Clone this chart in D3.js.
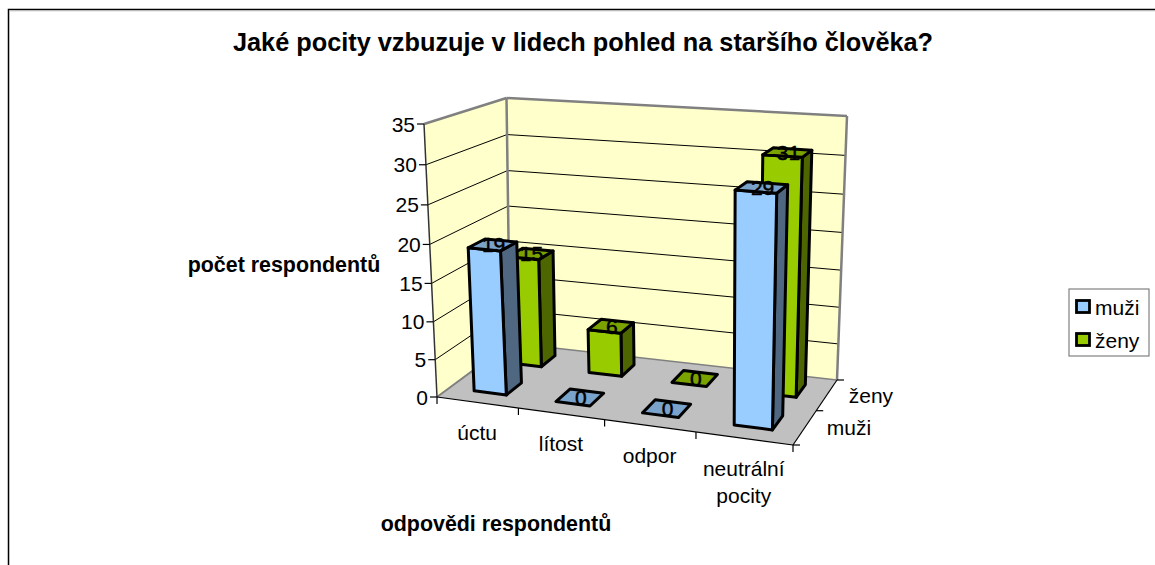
<!DOCTYPE html>
<html><head><meta charset="utf-8">
<script src="https://cdn.jsdelivr.net/npm/d3@7"></script>
<style>html,body{margin:0;padding:0;background:#fff}svg{display:block}text{font-family:"Liberation Sans",Arial,sans-serif;fill:#000}</style>
</head><body><svg id="c" width="1155" height="565"></svg>
<script>
const categories=["úctu","lítost","odpor","neutrální pocity"];
const seriesNames=["muži","ženy"];
const muzi=[19,0,0,29];
const zeny=[15,6,0,31];
const valueTicks=[0,5,10,15,20,25,30,35];
const title="Jaké pocity vzbuzuje v lidech pohled na staršího člověka?";
const yTitle="počet respondentů";
const xTitle="odpovědi respondentů";
const colors=[{front:"#99CCFF",side:"#4F6780",top:"#7AA3CC"},{front:"#99CC00",side:"#4D6600",top:"#7AA300"}];

// box corners: front-left, front-right, back-left, back-right
const floorQuad=[[437,397],[793,445],[510,343],[837,380]];
const ceilQuad=[[424,124],[801,150],[506.5,98],[847,116]];
function homog(q){const [O,U,D,C]=q;
  const p=[C[0]-U[0],C[0]-D[0],C[0]-O[0]],r=[C[1]-U[1],C[1]-D[1],C[1]-O[1]];
  const det=p[0]*r[1]-p[1]*r[0];
  const A=(p[2]*r[1]-p[1]*r[2])/det,B=(p[0]*r[2]-p[2]*r[0])/det;
  return (u,d)=>{const w=1+(A-1)*u+(B-1)*d;
    return [0,1].map(i=>(O[i]+(A*U[i]-O[i])*u+(B*D[i]-O[i])*d)/w);};}
const hf=homog(floorQuad),hc=homog(ceilQuad);
const xS=d3.scaleLinear().domain([0,categories.length]).range([0,1]);
const dS=d3.scaleLinear().domain([0,seriesNames.length]).range([0,1]);
const vS=d3.scaleLinear().domain([0,35]).range([0,1]);
const persp=-.05;
function P(c,s,v){const u=xS(c),d=dS(s),s0=vS(v),t=s0*(1+persp)/(1+persp*s0),a=hf(u,d),b=hc(u,d);
  return [a[0]+(b[0]-a[0])*t,a[1]+(b[1]-a[1])*t];}
const svg=d3.select("#c");
const line=d3.line();
const poly=(pts,fill,stroke,sw)=>svg.append("path").attr("d",line(pts)+"Z").attr("fill",fill).attr("stroke",stroke||"none").attr("stroke-width",sw||0).attr("stroke-linejoin","round");
const seg=(a,b,stroke,sw)=>svg.append("line").attr("x1",a[0]).attr("y1",a[1]).attr("x2",b[0]).attr("y2",b[1]).attr("stroke",stroke).attr("stroke-width",sw);
const txt=(s,x,y,size,weight,anchor)=>svg.append("text").attr("x",x).attr("y",y).attr("font-size",size).attr("font-weight",weight||"normal").attr("text-anchor",anchor||"middle").text(s);

// frame
svg.append("path").attr("d","M8.5,565V9.5H1155").attr("fill","none").attr("stroke","#000").attr("stroke-width",1.5);
svg.append("path").attr("d","M9.5,565V10.8H1155").attr("fill","none").attr("stroke","#bbb").attr("stroke-width",1);

const nC=categories.length,nS=seriesNames.length;
// walls and floor
poly([P(0,0,0),P(0,nS,0),P(0,nS,35),P(0,0,35)],"#FFFFCC");
poly([P(0,nS,0),P(nC,nS,0),P(nC,nS,35),P(0,nS,35)],"#FFFFCC");
poly([P(0,0,0),P(nC,0,0),P(nC,nS,0),P(0,nS,0)],"#C0C0C0");
valueTicks.filter(v=>v>0&&v<35).forEach(v=>{
  seg(P(0,0,v),P(0,nS,v),"#000",1);
  seg(P(0,nS,v),P(nC,nS,v),"#000",1);
});
seg(P(0,nS,0),P(nC,nS,0),"#808080",1.5);
seg(P(0,0,0),P(0,nS,0),"#808080",2);
seg(P(0,0,35),P(0,nS,35),"#808080",2.5);
seg(P(0,nS,35),P(nC,nS,35),"#808080",2.5);
seg(P(0,nS,0),P(0,nS,35),"#808080",2.5);
seg(P(nC,nS,0),P(nC,nS,35),"#808080",2.5);
// axes
seg(P(0,0,0),P(0,0,35),"#333",1.5);
valueTicks.forEach(v=>{const p=P(0,0,v);seg([p[0]-7,p[1]],p,"#000",1.2);
  txt(v,p[0]-9,p[1]+7.5,21,"normal","end");});
seg(P(0,0,0),P(nC,0,0),"#000",1.2);
d3.range(nC+1).forEach(c=>{const p=P(c,0,0);seg(p,[p[0],p[1]+7],"#000",1.2);});
seg(P(nC,0,0),P(nC,nS,0),"#000",1.2);
d3.range(nS+1).forEach(s=>{const p=P(nC,s,0);seg(p,[p[0]+7,p[1]],"#000",1.2);});

// bars, back series first
const uLo=.31,uHi=.71,dLo=.32,dHi=.74;
const sw=3;
[1,0].forEach(s=>{const vals=s?zeny:muzi;
  vals.forEach((v,c)=>{
    const a=c+uLo,b=c+uHi,f=s+dLo,k=s+dHi,col=colors[s];
    if(v>0){
      poly([P(b,f,0),P(b,k,0),P(b,k,v),P(b,f,v)],col.side,"#000",sw);
      poly([P(a,f,0),P(b,f,0),P(b,f,v),P(a,f,v)],col.front,"#000",sw);
    }
    poly([P(a,f,v),P(b,f,v),P(b,k,v),P(a,k,v)],col.top,"#000",sw);
    const t=P(c+(uLo+uHi)/2,s+(dLo+dHi)/2,v);
    txt(v,t[0]+1,t[1]+7.5,21).attr("stroke","#000").attr("stroke-width",.5);
  });
});

// tick labels
categories.forEach((n,c)=>{const p=P(c+.5,0,0);
  n.split(" ").forEach((l,i)=>txt(l,p[0],p[1]+37.5+i*27,21));
});
seriesNames.forEach((n,s)=>{const p=P(nC,s+.5,0);txt(n,p[0]+44,p[1]+8,21);});

// titles
txt(title,583,51,25.3,"bold");
txt(yTitle,284,272,21.4,"bold");
txt(xTitle,496,531,21.4,"bold");

// legend
svg.append("rect").attr("x",1069).attr("y",289).attr("width",80).attr("height",67).attr("fill","#fff").attr("stroke","#808080").attr("stroke-width",1.2);
seriesNames.forEach((n,i)=>{const y=300.5+i*33;
  svg.append("rect").attr("x",1076.5).attr("y",y).attr("width",13).attr("height",12).attr("fill",colors[i].front).attr("stroke","#000").attr("stroke-width",2.8);
  txt(n,1095,y+14,21,"normal","start");
});
</script></body></html>
